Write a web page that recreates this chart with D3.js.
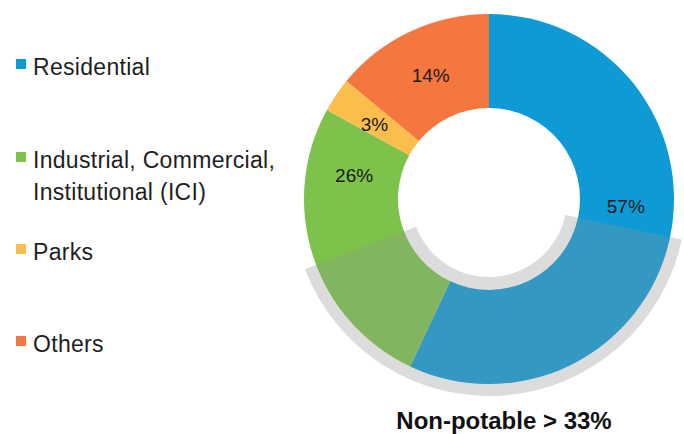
<!DOCTYPE html>
<html>
<head>
<meta charset="utf-8">
<script src="https://cdn.jsdelivr.net/npm/d3@7"></script>
<style>
  html, body { margin: 0; padding: 0; background: #fff; }
  text { font-family: "Liberation Sans", Arial, sans-serif; }
</style>
</head>
<body>
<div id="app"></div>
<script>
// data
const categories = ["Residential", "ICI", "Parks", "Others"];
const legendLines = [["Residential"], ["Industrial, Commercial,", "Institutional (ICI)"], ["Parks"], ["Others"]];
const shares = [57, 26, 3, 14];
const colors = ["#0e9ad5", "#7cc24b", "#fbbd4b", "#f4773f"];
// non-potable span, as a fraction of the whole, clockwise from 12 o'clock
const nonPotable = [0.283, 0.692];
const nonPotableLabel = "Non-potable > 33%";

const width = 684
    , height = 434
    , cx = 489
    , cy = 199
    , outerR = 185
    , innerR = 91
    , labelR = 137;

const svg = d3.select("#app").append("svg")
    .attr("width", width)
    .attr("height", height);

const pie = d3.pie().sort(null).value(d => d);
const arcs = pie(shares);
const arc = d3.arc().innerRadius(innerR).outerRadius(outerR);
const frac = d3.scaleLinear().domain([0, 1]).range([0, 2 * Math.PI]);

const chart = svg.append("g")
    .attr("transform", `translate(${cx},${cy})`);

// grey band behind the non-potable part
chart.append("path")
    .attr("d", d3.arc()
      .innerRadius(78).outerRadius(197)
      .startAngle(frac(nonPotable[0])).endAngle(frac(nonPotable[1]))())
    .attr("fill", "#dcdcdc");

chart.selectAll(".slice")
    .data(arcs)
  .enter().append("path")
    .attr("class", "slice")
    .attr("d", arc)
    .attr("fill", (d, i) => colors[i]);

// dimmed overlay
chart.append("path")
    .attr("d", d3.arc()
      .innerRadius(innerR).outerRadius(outerR)
      .startAngle(frac(nonPotable[0])).endAngle(frac(nonPotable[1]))())
    .attr("fill", "#959595")
    .attr("opacity", 0.28);

// labels nudged off the overlay (degrees)
const labelShift = [-9.5, 28, -1, 0];
chart.selectAll(".lbl")
    .data(arcs)
  .enter().append("text")
    .attr("class", "lbl")
    .attr("transform", (d, i) => {
      const a = (d.startAngle + d.endAngle) / 2 + labelShift[i] * Math.PI / 180;
      return `translate(${labelR * Math.sin(a)},${-labelR * Math.cos(a)})`;
    })
    .attr("text-anchor", "middle")
    .attr("dy", "0.35em")
    .attr("font-size", 19)
    .attr("fill", "#1a1a1a")
    .text(d => d.data + "%");

svg.append("text")
    .attr("x", 504)
    .attr("y", 429)
    .attr("text-anchor", "middle")
    .attr("font-size", 24)
    .attr("font-weight", "bold")
    .attr("fill", "#111")
    .text(nonPotableLabel);

// legend
const legendY = [75, 168, 260, 352];
const legend = svg.append("g");
legendLines.forEach((lines, i) => {
  legend.append("rect")
      .attr("x", 16)
      .attr("y", legendY[i] - 16)
      .attr("width", 10)
      .attr("height", 10)
      .attr("fill", colors[i]);
  legend.append("text")
      .attr("x", 33)
      .attr("y", legendY[i])
      .attr("font-size", 23)
      .attr("letter-spacing", 0.3)
      .attr("fill", "#1e1e1e")
    .selectAll("tspan")
      .data(lines)
    .enter().append("tspan")
      .attr("x", 33)
      .attr("dy", (d, j) => j ? 32 : 0)
      .text(d => d);
});
</script>
</body>
</html>
